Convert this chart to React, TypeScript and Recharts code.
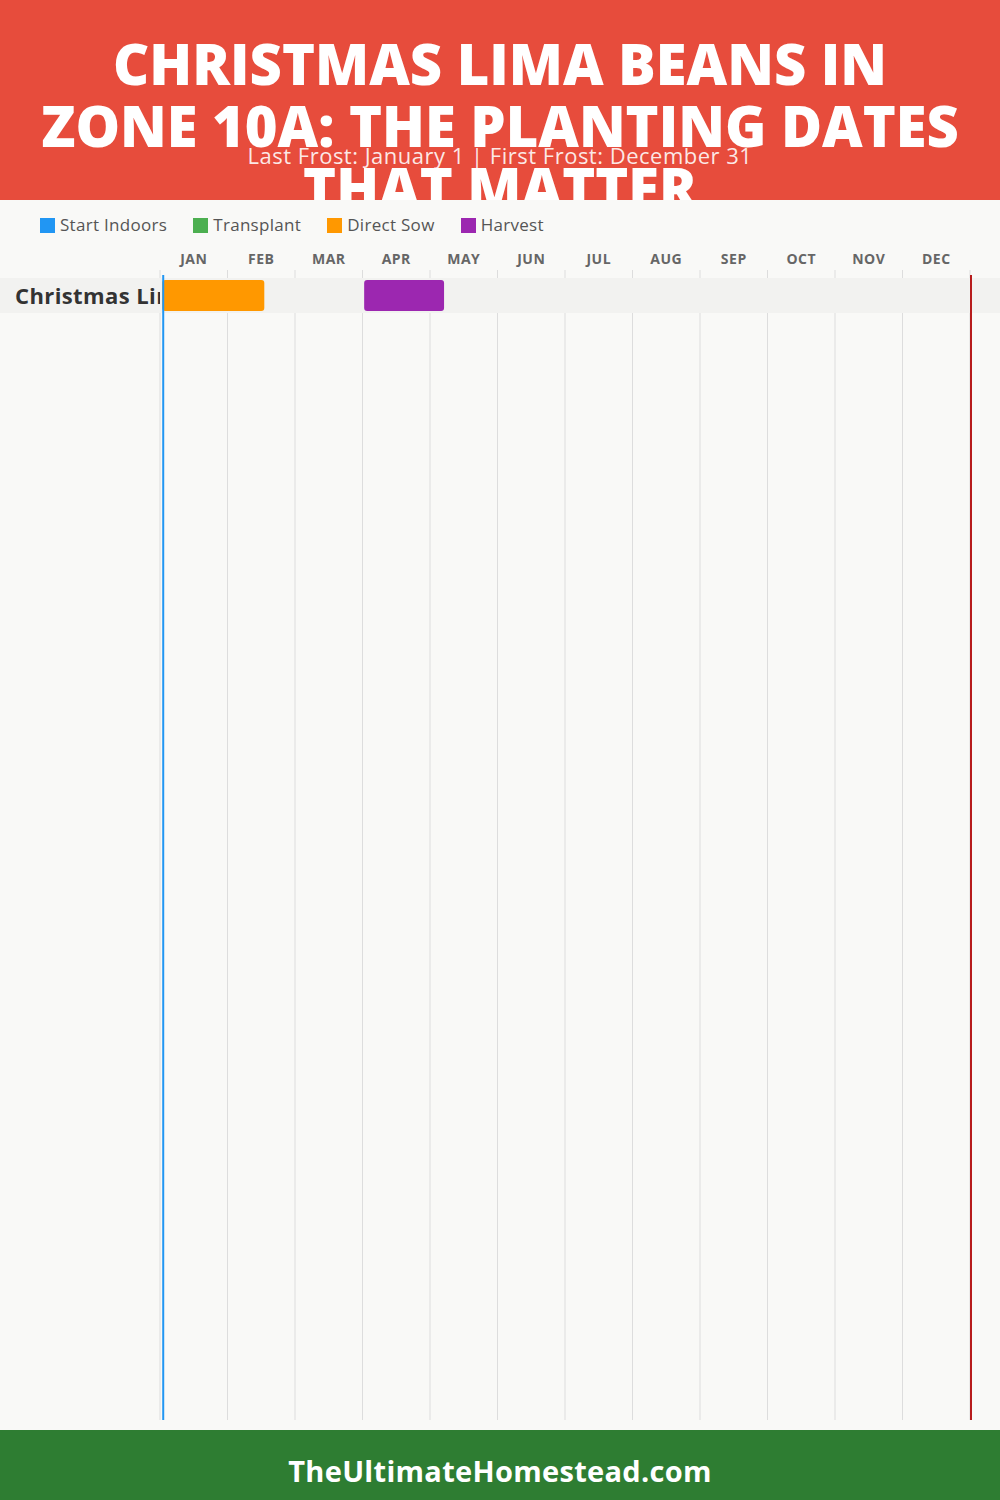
import React from 'react';
import {
  ComposedChart,
  Bar,
  XAxis,
  YAxis,
  ReferenceLine,
  ReferenceArea,
  Legend,
} from 'recharts';

// ---------- data ----------
const titleLines = ['CHRISTMAS LIMA BEANS IN', 'ZONE 10A: THE PLANTING DATES', 'THAT MATTER'];
const subtitle = 'Last Frost: January 1 | First Frost: December 31';
const footerText = 'TheUltimateHomestead.com';

const monthLabels = ['JAN', 'FEB', 'MAR', 'APR', 'MAY', 'JUN', 'JUL', 'AUG', 'SEP', 'OCT', 'NOV', 'DEC'];
const daysInYear = 365;

const crops = ['Christmas Lima Beans'];
const startIndoors: (number[] | null)[] = [null];
const transplant: (number[] | null)[] = [null];
const directSow: (number[] | null)[] = [[1, 47]];
const harvest: (number[] | null)[] = [[92, 128]];

const lastFrostDay = 1;
const firstFrostDay = 365;

const seriesNames = ['Start Indoors', 'Transplant', 'Direct Sow', 'Harvest'];
const seriesKeys = ['startIndoors', 'transplant', 'directSow', 'harvest'];
const seriesColors = ['#2196F3', '#4CAF50', '#FF9800', '#9C27B0'];

const data = crops.map((crop, i) => ({
  crop,
  startIndoors: startIndoors[i],
  transplant: transplant[i],
  directSow: directSow[i],
  harvest: harvest[i],
}));

const monthLen = daysInYear / 12;
const monthCenterTicks = monthLabels.map((_, i) => (i + 0.5) * monthLen);
const monthBoundaries = monthLabels.map((_, i) => i * monthLen).concat([daysInYear]);

// ---------- layout ----------
const W = 1000;
const CHART_TOP = 200;
const CHART_H = 1230;
const PLOT_LEFT = 160;
const PLOT_RIGHT_MARGIN = 30;
const PLOT_W = W - PLOT_LEFT - PLOT_RIGHT_MARGIN;
const LEGEND_H = 22;
const MONTH_AXIS_H = 20;
const PLOT_TOP = 70;
const BOTTOM_MARGIN = 10;
const PLOT_H = CHART_H - PLOT_TOP - BOTTOM_MARGIN;
const ROW_TOP_PAD = 8;
const ROW_H = 35;

const FONT = '"Open Sans", "DejaVu Sans", sans-serif';

const CropTick = (props: any) => {
  const { y, payload } = props;
  return (
    <g>
      <defs>
        <clipPath id="cropLabelClip">
          <rect x={0} y={y - 30} width={PLOT_LEFT} height={60} />
        </clipPath>
      </defs>
      <text
        x={15}
        y={y}
        dy={8}
        textAnchor="start"
        clipPath="url(#cropLabelClip)"
        style={{ fontFamily: FONT, fontWeight: 700, fontSize: 22, letterSpacing: 0.4, fill: '#333' }}
      >
        {payload.value}
      </text>
    </g>
  );
};

const LegendContent = (props: any) => {
  const payload = [...(props.payload || [])]
    .filter((p: any) => seriesNames.indexOf(p.value) >= 0)
    .sort((a: any, b: any) => seriesNames.indexOf(a.value) - seriesNames.indexOf(b.value));
  return (
    <div style={{ display: 'flex', alignItems: 'center', paddingLeft: 40, height: LEGEND_H }}>
      {payload.map((p: any) => (
        <div key={p.value} style={{ display: 'flex', alignItems: 'center', marginRight: 26 }}>
          <span style={{ width: 15, height: 15, background: p.color, display: 'inline-block', marginRight: 5 }} />
          <span style={{ fontFamily: FONT, fontSize: 17, letterSpacing: 0.3, color: '#555', lineHeight: '22px' }}>
            {p.value}
          </span>
        </div>
      ))}
    </div>
  );
};

// grid line that is hidden behind the crop row band
const GridLine = (props: any) => {
  const { x1, y1, x2, y2 } = props;
  const bandTop = y1 + ROW_TOP_PAD;
  const bandBottom = bandTop + ROW_H;
  return (
    <g>
      <line x1={x1} y1={y1} x2={x2} y2={bandTop} stroke="#DDDDDD" strokeWidth={1} />
      <line x1={x1} y1={bandBottom} x2={x2} y2={y2} stroke="#DDDDDD" strokeWidth={1} />
    </g>
  );
};

const FrostLine = (color: string) => (props: any) => {
  const { x1, y1, x2, y2 } = props;
  return <line x1={x1 + 1} y1={y1 + 5} x2={x2 + 1} y2={y2} stroke={color} strokeWidth={2} />;
};

export default function App() {
  const bandLeft = -(PLOT_LEFT / PLOT_W) * daysInYear;
  const bandRight = daysInYear * (1 + PLOT_RIGHT_MARGIN / PLOT_W);
  return (
    <div
      style={{
        position: 'absolute',
        top: 0,
        left: 0,
        width: W,
        height: 1500,
        background: '#F9F9F7',
        overflow: 'hidden',
      }}
    >
      {/* header */}
      <div
        style={{
          position: 'absolute',
          top: 0,
          left: 0,
          width: W,
          height: CHART_TOP,
          background: '#E74C3C',
          overflow: 'hidden',
        }}
      >
        {titleLines.map((t, i) => (
          <div
            key={t}
            style={{
              position: 'absolute',
              top: 63 + i * 62 - 37,
              left: 0,
              width: W,
              textAlign: 'center',
              fontFamily: FONT,
              fontWeight: 800,
              fontSize: 56,
              lineHeight: '74px',
              height: 74,
              color: '#fff',
              whiteSpace: 'nowrap',
            }}
          >
            {t}
          </div>
        ))}
        <div
          style={{
            position: 'absolute',
            top: 141,
            left: 0,
            width: W,
            textAlign: 'center',
            fontFamily: FONT,
            fontWeight: 400,
            fontSize: 22,
            letterSpacing: 0.5,
            lineHeight: '28px',
            color: 'rgba(255,255,255,0.88)',
          }}
        >
          {subtitle}
        </div>
      </div>

      {/* chart */}
      <div style={{ position: 'absolute', top: CHART_TOP, left: 0 }}>
        <ComposedChart
          width={W}
          height={CHART_H}
          data={data}
          layout="vertical"
          margin={{ top: PLOT_TOP - LEGEND_H - MONTH_AXIS_H, right: PLOT_RIGHT_MARGIN, bottom: BOTTOM_MARGIN, left: 0 }}
          barGap={-31}
        >
          <Legend
            verticalAlign="top"
            align="left"
            content={<LegendContent />}
            wrapperStyle={{ top: 14, left: 0, width: W }}
          />
          <XAxis
            type="number"
            orientation="top"
            domain={[0, daysInYear]}
            ticks={monthCenterTicks}
            interval={0}
            tickFormatter={(v: number) => monthLabels[Math.round(v / monthLen - 0.5)]}
            axisLine={false}
            tickLine={false}
            tick={{ fontFamily: FONT, fontWeight: 700, fontSize: 14, letterSpacing: 0.5, fill: '#666' }}
            tickMargin={0}
            height={MONTH_AXIS_H}
          />
          <YAxis
            type="category"
            dataKey="crop"
            width={PLOT_LEFT}
            axisLine={false}
            tickLine={false}
            tick={<CropTick />}
            padding={{ top: ROW_TOP_PAD, bottom: PLOT_H - ROW_TOP_PAD - ROW_H }}
          />
          <ReferenceArea
            y1={crops[0]}
            y2={crops[0]}
            x1={bandLeft}
            x2={bandRight}
            ifOverflow="visible"
            fill="#F2F2F0"
            fillOpacity={1}
            stroke="none"
          />
          {monthBoundaries.map((d) => (
            <ReferenceLine key={`g${d}`} x={d} ifOverflow="visible" shape={GridLine} />
          ))}
          {seriesKeys.map((k, i) => (
            <Bar
              key={k}
              dataKey={k}
              name={seriesNames[i]}
              fill={seriesColors[i]}
              barSize={31}
              radius={3}
              isAnimationActive={false}
            />
          ))}
          <ReferenceLine x={lastFrostDay} ifOverflow="visible" shape={FrostLine('#2196F3')} />
          <ReferenceLine x={firstFrostDay} ifOverflow="visible" shape={FrostLine('#B71C1C')} />
        </ComposedChart>
      </div>

      {/* footer */}
      <div
        style={{
          position: 'absolute',
          top: 1430,
          left: 0,
          width: W,
          height: 70,
          background: '#2E7D32',
          color: '#fff',
          textAlign: 'center',
          fontFamily: FONT,
          fontWeight: 700,
          fontSize: 29,
          letterSpacing: 0.3,
          lineHeight: '82px',
        }}
      >
        {footerText}
      </div>
    </div>
  );
}
